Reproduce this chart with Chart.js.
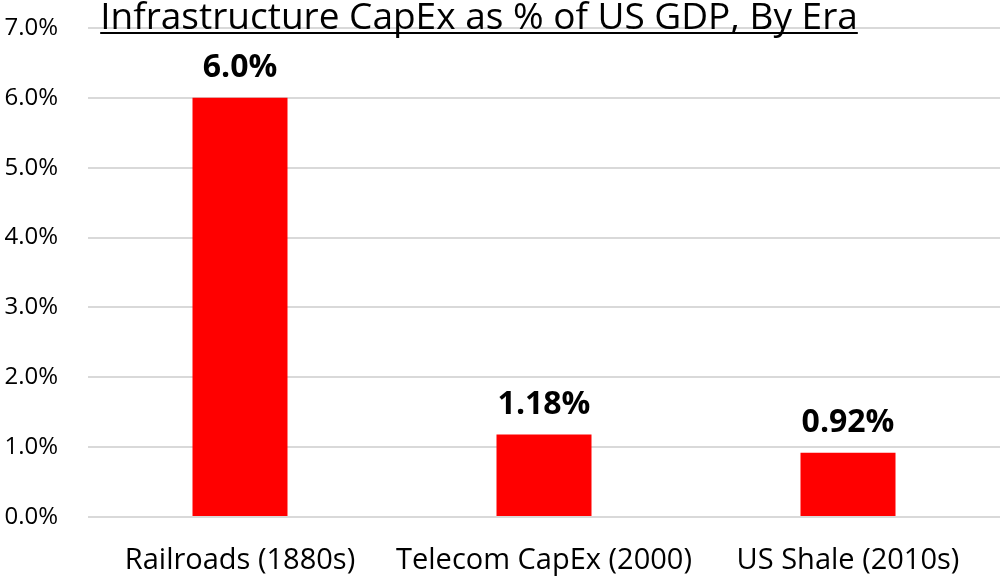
<!DOCTYPE html>
<html>
<head>
<meta charset="utf-8">
<script src="https://cdn.jsdelivr.net/npm/chart.js@4/dist/chart.umd.min.js"></script>
<style>
  html, body { margin: 0; padding: 0; background: #fff; overflow: hidden; }
  #wrap { width: 1000px; height: 579px; }
</style>
</head>
<body>
<div id="wrap"><canvas id="capex-chart"></canvas></div>
<script>
const eras = ['Railroads (1880s)', 'Telecom CapEx (2000)', 'US Shale (2010s)'];
const capexPct = [6.0, 1.18, 0.92];
const valueLabels = ['6.0%', '1.18%', '0.92%'];
const chartTitle = 'Infrastructure CapEx as % of US GDP, By Era';

const FONT = "'Open Sans', 'Noto Sans', sans-serif";

// title sits over the top of the plot area, underlined
const titlePlugin = {
    id: 'underlinedTitle',
    afterDraw(chart) {
        const ctx = chart.ctx;
        ctx.save();
        ctx.font = '37px ' + FONT;
        ctx.fillStyle = '#000';
        ctx.textAlign = 'center';
        ctx.textBaseline = 'alphabetic';
        const x = 479, y = 29;
        ctx.fillText(chartTitle, x, y);
        const w = ctx.measureText(chartTitle).width;
        ctx.fillRect(x - w / 2, y + 3, w, 2);
        ctx.restore();
    }
};

const valueLabelPlugin = {
    id: 'valueLabels',
    afterDatasetsDraw(chart) {
        const ctx = chart.ctx;
        const meta = chart.getDatasetMeta(0);
        ctx.save();
        ctx.font = 'bold 32px ' + FONT;
        ctx.fillStyle = '#000';
        ctx.textAlign = 'center';
        ctx.textBaseline = 'alphabetic';
        meta.data.forEach((bar, i) => {
            ctx.fillText(valueLabels[i], bar.x, bar.y - 21);
        });
        ctx.restore();
    }
};

new Chart(document.getElementById('capex-chart'), {
    type: 'bar',
    data: {
        labels: eras,
        datasets: [{
            data: capexPct,
            backgroundColor: '#ff0000',
            borderWidth: 0,
            barPercentage: 0.3125,
            categoryPercentage: 1,
        }]
    },
    options: {
        responsive: true,
        maintainAspectRatio: false,
        animation: false,
        layout: { padding: { top: 28, right: 0, left: 0, bottom: 0 } },
        plugins: {
            legend: { display: false },
            tooltip: { enabled: false },
        },
        scales: {
            x: {
                grid: { display: false, drawTicks: false },
                border: { display: false },
                ticks: {
                    color: '#000',
                    font: { family: FONT, size: 29 },
                    padding: 26,
                    maxRotation: 0,
                },
                afterFit(scale) { scale.height = 62; },
            },
            y: {
                min: 0,
                max: 7,
                grid: { color: '#d9d9d9', lineWidth: 2, drawTicks: false },
                border: { display: false },
                ticks: {
                    stepSize: 1,
                    color: '#000',
                    font: { family: FONT, size: 24 },
                    padding: 30,
                    callback: (v) => v.toFixed(1) + '%',
                },
                afterFit(scale) {
                    scale.width = 88;
                    scale.paddingTop = 0;
                    scale.paddingBottom = 0;
                },
            }
        }
    },
    plugins: [titlePlugin, valueLabelPlugin]
});
</script>
</body>
</html>
